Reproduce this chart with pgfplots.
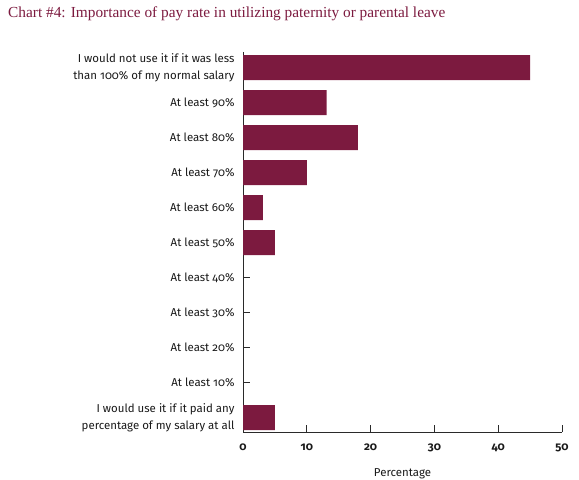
\documentclass[border=0pt]{standalone}
\usepackage{fontspec}
\setmainfont{Fira Sans}[Numbers=OldStyle]
\newfontfamily\titlefont{Liberation Serif}
\usepackage{pgfplots}
\pgfplotsset{compat=1.18}
\definecolor{barred}{HTML}{7C1A3F}
\definecolor{axisgray}{HTML}{2A2A2A}
\begin{document}
\begin{tikzpicture}
\useasboundingbox (0,0) rectangle (579bp,480bp);
\node[anchor=base west,text=barred,font=\titlefont\fontsize{15.4}{18}\selectfont,inner sep=0pt] at (8bp,462bp) {Chart \#4: Importance of pay rate in utilizing paternity or parental leave};
\begin{axis}[
  at={(243bp,48bp)}, anchor=south west,
  scale only axis, width=319bp, height=380bp,
  xbar, bar width=25bp,
  xmin=0, xmax=50,
  ymin=-0.45, ymax=10.41, y dir=reverse,
  axis x line*=bottom, axis y line*=left,
  axis line style={axisgray, line width=0.9bp, -},
  xtick={0,10,...,50},
  ytick={0,...,10},
  yticklabels={{I would not use it if it was less\\than 100\% of my normal salary},
    {At least 90\%},{At least 80\%},{At least 70\%},{At least 60\%},{At least 50\%},
    {At least 40\%},{At least 30\%},{At least 20\%},{At least 10\%},
    {I would use it if it paid any\\percentage of my salary at all}},
  yticklabel style={align=right, font=\fontsize{11.5}{17}\selectfont, text=black!90, xshift=-5bp},
  xticklabel style={font=\fontsize{11.5}{12}\selectfont\bfseries, text=black!90, yshift=-8bp},
  /pgf/number format/assume math mode=true,
  tick align=inside,
  major tick length=7bp,
  tick style={axisgray, line width=0.9bp},
  xlabel={Percentage},
  xlabel style={font=\fontsize{11.5}{12}\selectfont, text=black!90, yshift=-10bp},
]
\addplot[fill=barred, draw=none] coordinates {
  (45.0,0) (13.1,1) (18.0,2) (10.0,3) (3.1,4) (5.0,5) (5.0,10)
};
\end{axis}
\end{tikzpicture}
\end{document}
